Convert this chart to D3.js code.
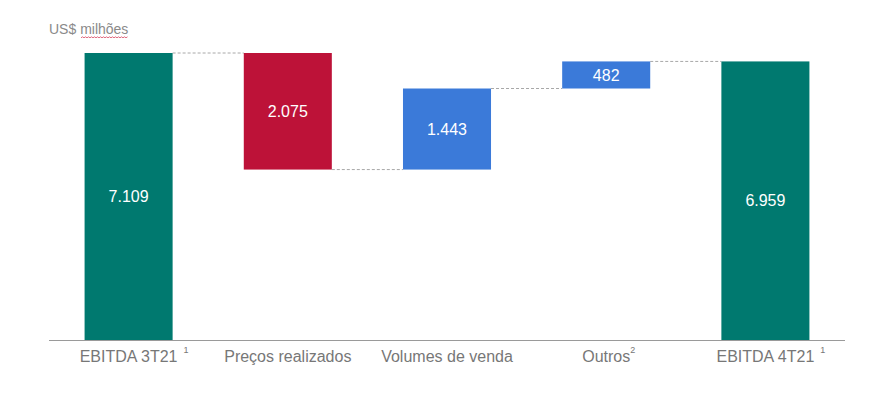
<!DOCTYPE html>
<html>
<head>
<meta charset="utf-8">
<script src="https://cdn.jsdelivr.net/npm/d3@7"></script>
<style>
  html, body { margin: 0; padding: 0; background: #fff; }
  svg { display: block; font-family: "Liberation Sans", Arial, sans-serif; }
</style>
</head>
<body>
<svg id="chart" width="895" height="397"></svg>
<script>
// ---- Data ----
const categories = ["EBITDA 3T21", "Preços realizados", "Volumes de venda", "Outros", "EBITDA 4T21"];
const superscripts = ["1", "", "", "2", "1"];
const values = [7109, -2075, 1443, 482, 6959];
const kinds = ["total", "delta", "delta", "delta", "total"];
const valueLabels = ["7.109", "2.075", "1.443", "482", "6.959"];
const unitLabel = ["US$ ", "milhões"];
const yDomain = [2000, 7109];

// ---- Layout ----
const svg = d3.select("#chart");
const axisY = 340, topY = 53;
const x = d3.scaleBand().domain(categories).range([49, 845]).paddingInner(0.447).paddingOuter(0.2235);
const y = d3.scaleLinear().domain(yDomain).range([axisY, topY]);

// compute waterfall segments
let running = 0;
const segs = categories.map((c, i) => {
  let start, end, color;
  if (kinds[i] === "total") {
    start = yDomain[0]; end = values[i]; running = values[i];
    color = "#00796f";
  } else {
    start = running; end = running + values[i]; running = end;
    color = values[i] < 0 ? "#bd1238" : "#3b7ad9";
  }
  return { c, i, start, end, color };
});

// unit label
const ul = svg.append("text").attr("x", 49).attr("y", 34)
  .attr("font-size", 14).attr("fill", "#8a8a8a").text(unitLabel[0]);
ul.append("tspan").text(unitLabel[1]);
// spellcheck-like underline under "milhões"
const wave = [];
for (let px = 81; px <= 128; px += 1.5) wave.push([px, Math.round((px - 81) / 1.5) % 2 === 0 ? 37.8 : 36.8]);
svg.append("path").attr("d", d3.line()(wave)).attr("fill", "none")
  .attr("stroke", "#e06b80").attr("stroke-width", 1);

// connectors
for (let i = 0; i < segs.length - 1; i++) {
  const level = kinds[i] === "total" ? values[i] : segs[i].end;
  svg.append("line")
    .attr("x1", x(categories[i]) + x.bandwidth()).attr("x2", x(categories[i + 1]))
    .attr("y1", y(level)).attr("y2", y(level))
    .attr("stroke", "#a8a8a8").attr("stroke-width", 1).attr("stroke-dasharray", "3,2");
}

// bars
svg.selectAll("rect.bar").data(segs).enter().append("rect")
  .attr("class", "bar")
  .attr("x", d => x(d.c))
  .attr("width", x.bandwidth())
  .attr("y", d => y(Math.max(d.start, d.end)))
  .attr("height", d => Math.abs(y(d.start) - y(d.end)))
  .attr("fill", d => d.color);

// value labels
svg.selectAll("text.val").data(segs).enter().append("text")
  .attr("class", "val")
  .attr("x", d => x(d.c) + x.bandwidth() / 2)
  .attr("y", d => (y(d.start) + y(d.end)) / 2)
  .attr("dy", "0.36em")
  .attr("text-anchor", "middle")
  .attr("font-size", 16).attr("fill", "#ffffff")
  .text((d, i) => valueLabels[i]);

// axis
const axis = d3.axisBottom(x).tickSize(0).tickPadding(0).tickFormat(() => "");
const ag = svg.append("g").attr("transform", `translate(0,${axisY})`).call(axis);
ag.select(".domain").attr("stroke", "#9a9a9a").attr("stroke-width", 1)
  .attr("d", "M49,0.5H845");

// category labels with superscripts
categories.forEach((c, i) => {
  const cx = x(c) + x.bandwidth() / 2;
  const t = svg.append("text").attr("x", cx).attr("y", 362)
    .attr("text-anchor", "middle").attr("font-size", 16).attr("fill", "#777777")
    .text(c);
  if (superscripts[i]) {
    const w = t.node().getComputedTextLength();
    svg.append("text")
      .attr("x", cx + w / 2 + (i === 3 ? 0 : 6))
      .attr("y", 353)
      .attr("font-size", 9).attr("fill", "#777777")
      .text(superscripts[i]);
  }
});
</script>
</body>
</html>
